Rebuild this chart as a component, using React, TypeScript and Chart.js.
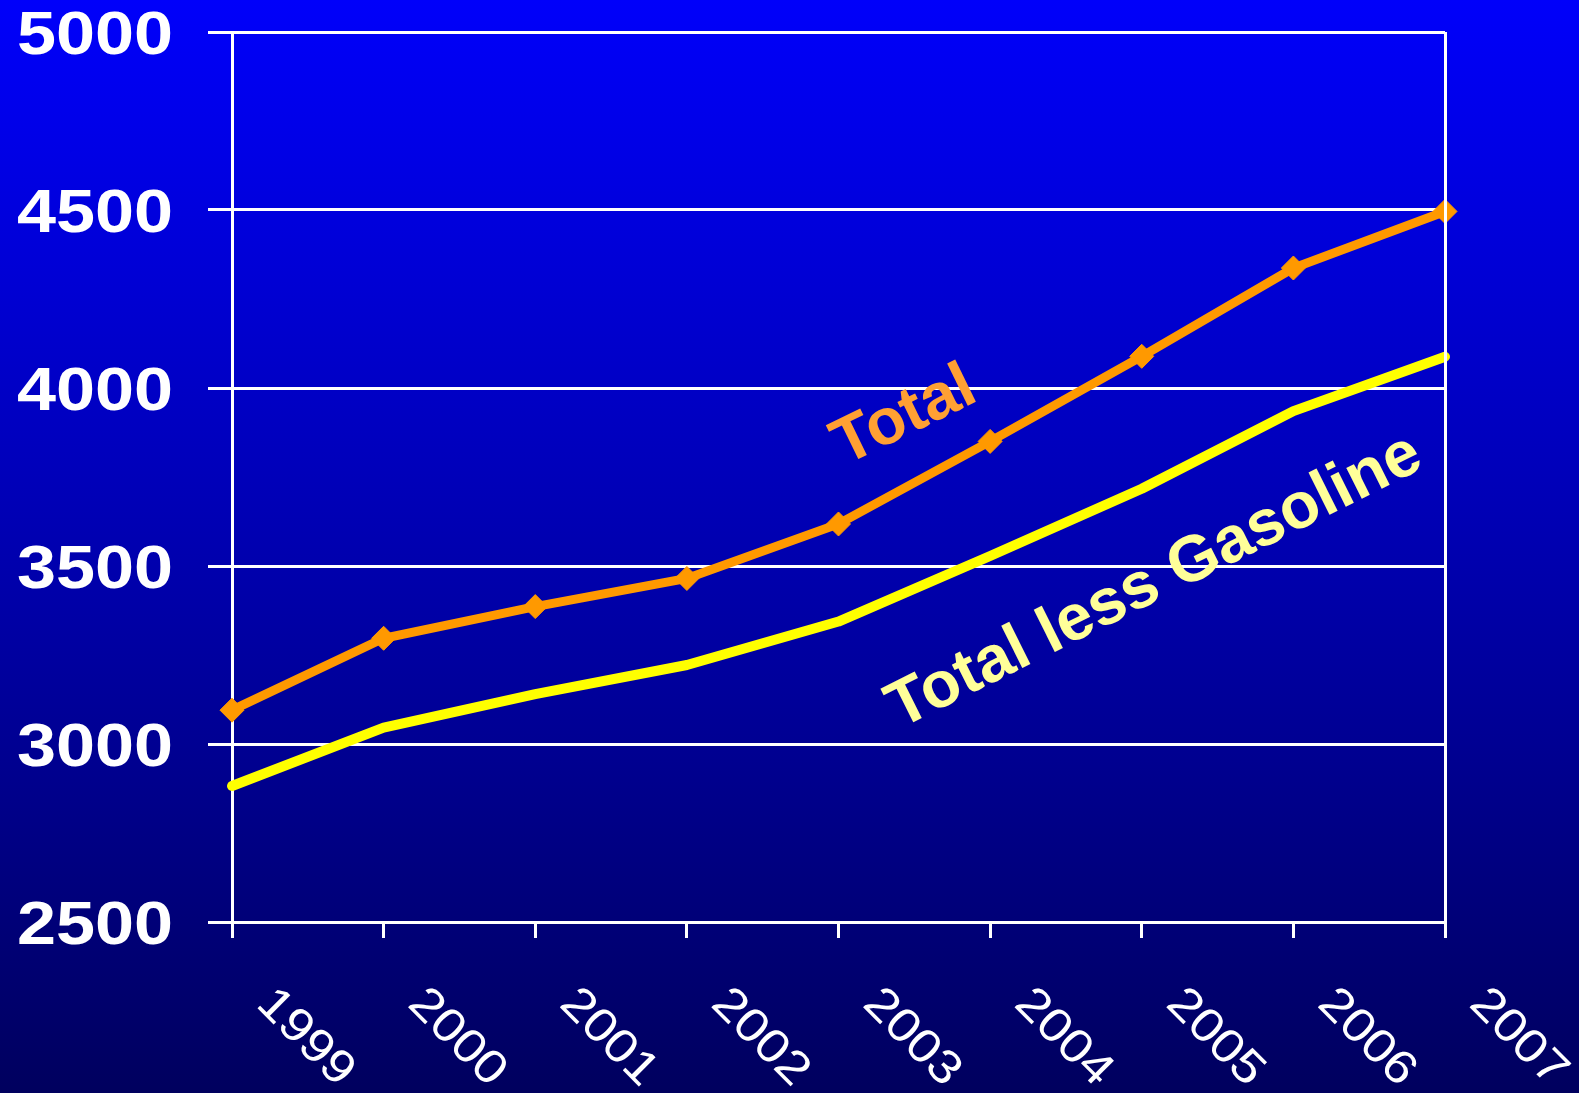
import React, { useEffect, useRef } from 'react';
import { Chart, registerables } from 'chart.js';

Chart.register(...registerables);

const years = ['1999', '2000', '2001', '2002', '2003', '2004', '2005', '2006', '2007'];
const totalValues = [3095, 3297, 3386, 3465, 3618, 3850, 4089, 4337, 4496];
const lessGasolineValues = [2882, 3046, 3140, 3222, 3344, 3528, 3717, 3935, 4088];
const yTickValues = [2500, 3000, 3500, 4000, 4500, 5000];
const seriesNames = ['Total', 'Total less Gasoline'];

const FONT = '"Liberation Sans", Arial, Helvetica, sans-serif';

const labelsPlugin = {
  id: 'customLabels',
  afterDraw(chart: any) {
    const ctx = chart.ctx as CanvasRenderingContext2D;
    const xs = chart.scales.x;
    const ys = chart.scales.y;
    const area = chart.chartArea;
    ctx.save();

    // right border line
    ctx.strokeStyle = '#ffffff';
    ctx.lineWidth = 3;
    ctx.beginPath();
    ctx.moveTo(Math.round(area.right) + 0.5, area.top);
    ctx.lineTo(Math.round(area.right) + 0.5, area.bottom);
    ctx.stroke();

    // y labels
    const ySize = 61;
    ctx.fillStyle = '#ffffff';
    ctx.font = `bold ${ySize}px ${FONT}`;
    ctx.textAlign = 'right';
    ctx.textBaseline = 'alphabetic';
    yTickValues.forEach((v) => {
      const py = ys.getPixelForValue(v);
      ctx.save();
      ctx.translate(area.left - 59, py);
      ctx.scale(1.15, 1);
      ctx.fillText(String(v), 0, ySize * 0.358);
      ctx.restore();
    });

    // x labels, rotated clockwise
    const xSize = 47;
    ctx.font = `${xSize}px ${FONT}`;
    ctx.textAlign = 'center';
    years.forEach((yr, i) => {
      const px = xs.getPixelForValue(i);
      ctx.save();
      ctx.translate(px + 76, area.bottom + 113);
      ctx.rotate(Math.PI / 4);
      ctx.scale(1.12, 1);
      ctx.fillText(yr, 0, xSize * 0.358);
      ctx.restore();
    });

    // series annotations
    const annSize = 65;
    ctx.font = `bold ${annSize}px ${FONT}`;
    ctx.textAlign = 'center';
    const anns = [
      { text: seriesNames[0], idx: 4.42, val: 3933, rot: -26, color: '#FFA033' },
      { text: seriesNames[1], idx: 6.07, val: 3469, rot: -26.5, color: '#FFFF99' },
    ];
    anns.forEach((a) => {
      const px = xs.left + (xs.right - xs.left) * (a.idx / (years.length - 1));
      const py = ys.getPixelForValue(a.val);
      ctx.save();
      ctx.translate(px, py);
      ctx.rotate((a.rot * Math.PI) / 180);
      ctx.fillStyle = a.color;
      ctx.fillText(a.text, 0, annSize * 0.36);
      ctx.restore();
    });

    ctx.restore();
  },
};

export default function App() {
  const canvasRef = useRef<HTMLCanvasElement | null>(null);

  useEffect(() => {
    document.body.style.margin = '0';
    const canvas = canvasRef.current;
    if (!canvas) return;
    const chart = new Chart(canvas, {
      type: 'line',
      data: {
        labels: years,
        datasets: [
          {
            label: seriesNames[0],
            data: totalValues,
            borderColor: '#FF9900',
            backgroundColor: '#FF9900',
            borderWidth: 9,
            pointStyle: 'rectRot',
            pointRadius: 12,
            pointBackgroundColor: '#FF9900',
            pointBorderColor: '#FF9900',
            pointBorderWidth: 1,
            tension: 0,
            clip: false as any,
          },
          {
            label: seriesNames[1],
            data: lessGasolineValues,
            borderColor: '#FFFF00',
            backgroundColor: '#FFFF00',
            borderWidth: 10,
            pointRadius: 0,
            borderCapStyle: 'round',
            borderJoinStyle: 'round',
            tension: 0,
            clip: false as any,
          },
        ],
      },
      options: {
        animation: false,
        responsive: true,
        maintainAspectRatio: false,
        layout: { padding: { top: 32, right: 134, left: 0, bottom: 0 }, autoPadding: false },
        plugins: { legend: { display: false }, tooltip: { enabled: false } },
        scales: {
          x: {
            type: 'category',
            offset: false,
            grid: {
              display: true,
              drawOnChartArea: false,
              drawTicks: true,
              tickLength: 16,
              color: '#ffffff',
              lineWidth: 3,
            },
            border: { display: true, color: '#ffffff', width: 3 },
            ticks: { display: false },
            afterFit: (s: any) => {
              s.height = 171;
            },
          },
          y: {
            min: 2500,
            max: 5000,
            ticks: { display: false, stepSize: 500 },
            grid: { color: '#ffffff', lineWidth: 3, tickLength: 24, drawTicks: true },
            border: { display: true, color: '#ffffff', width: 3 },
            afterFit: (s: any) => {
              s.width = 232;
            },
          },
        },
      },
      plugins: [labelsPlugin],
    } as any);
    return () => chart.destroy();
  }, []);

  return (
    <div
      style={{
        position: 'fixed',
        left: 0,
        top: 0,
        width: 1579,
        height: 1093,
        background: 'linear-gradient(to bottom, #0000FA 0%, #0000B0 50%, #00005E 100%)',
      }}
    >
      <canvas ref={canvasRef} />
    </div>
  );
}
